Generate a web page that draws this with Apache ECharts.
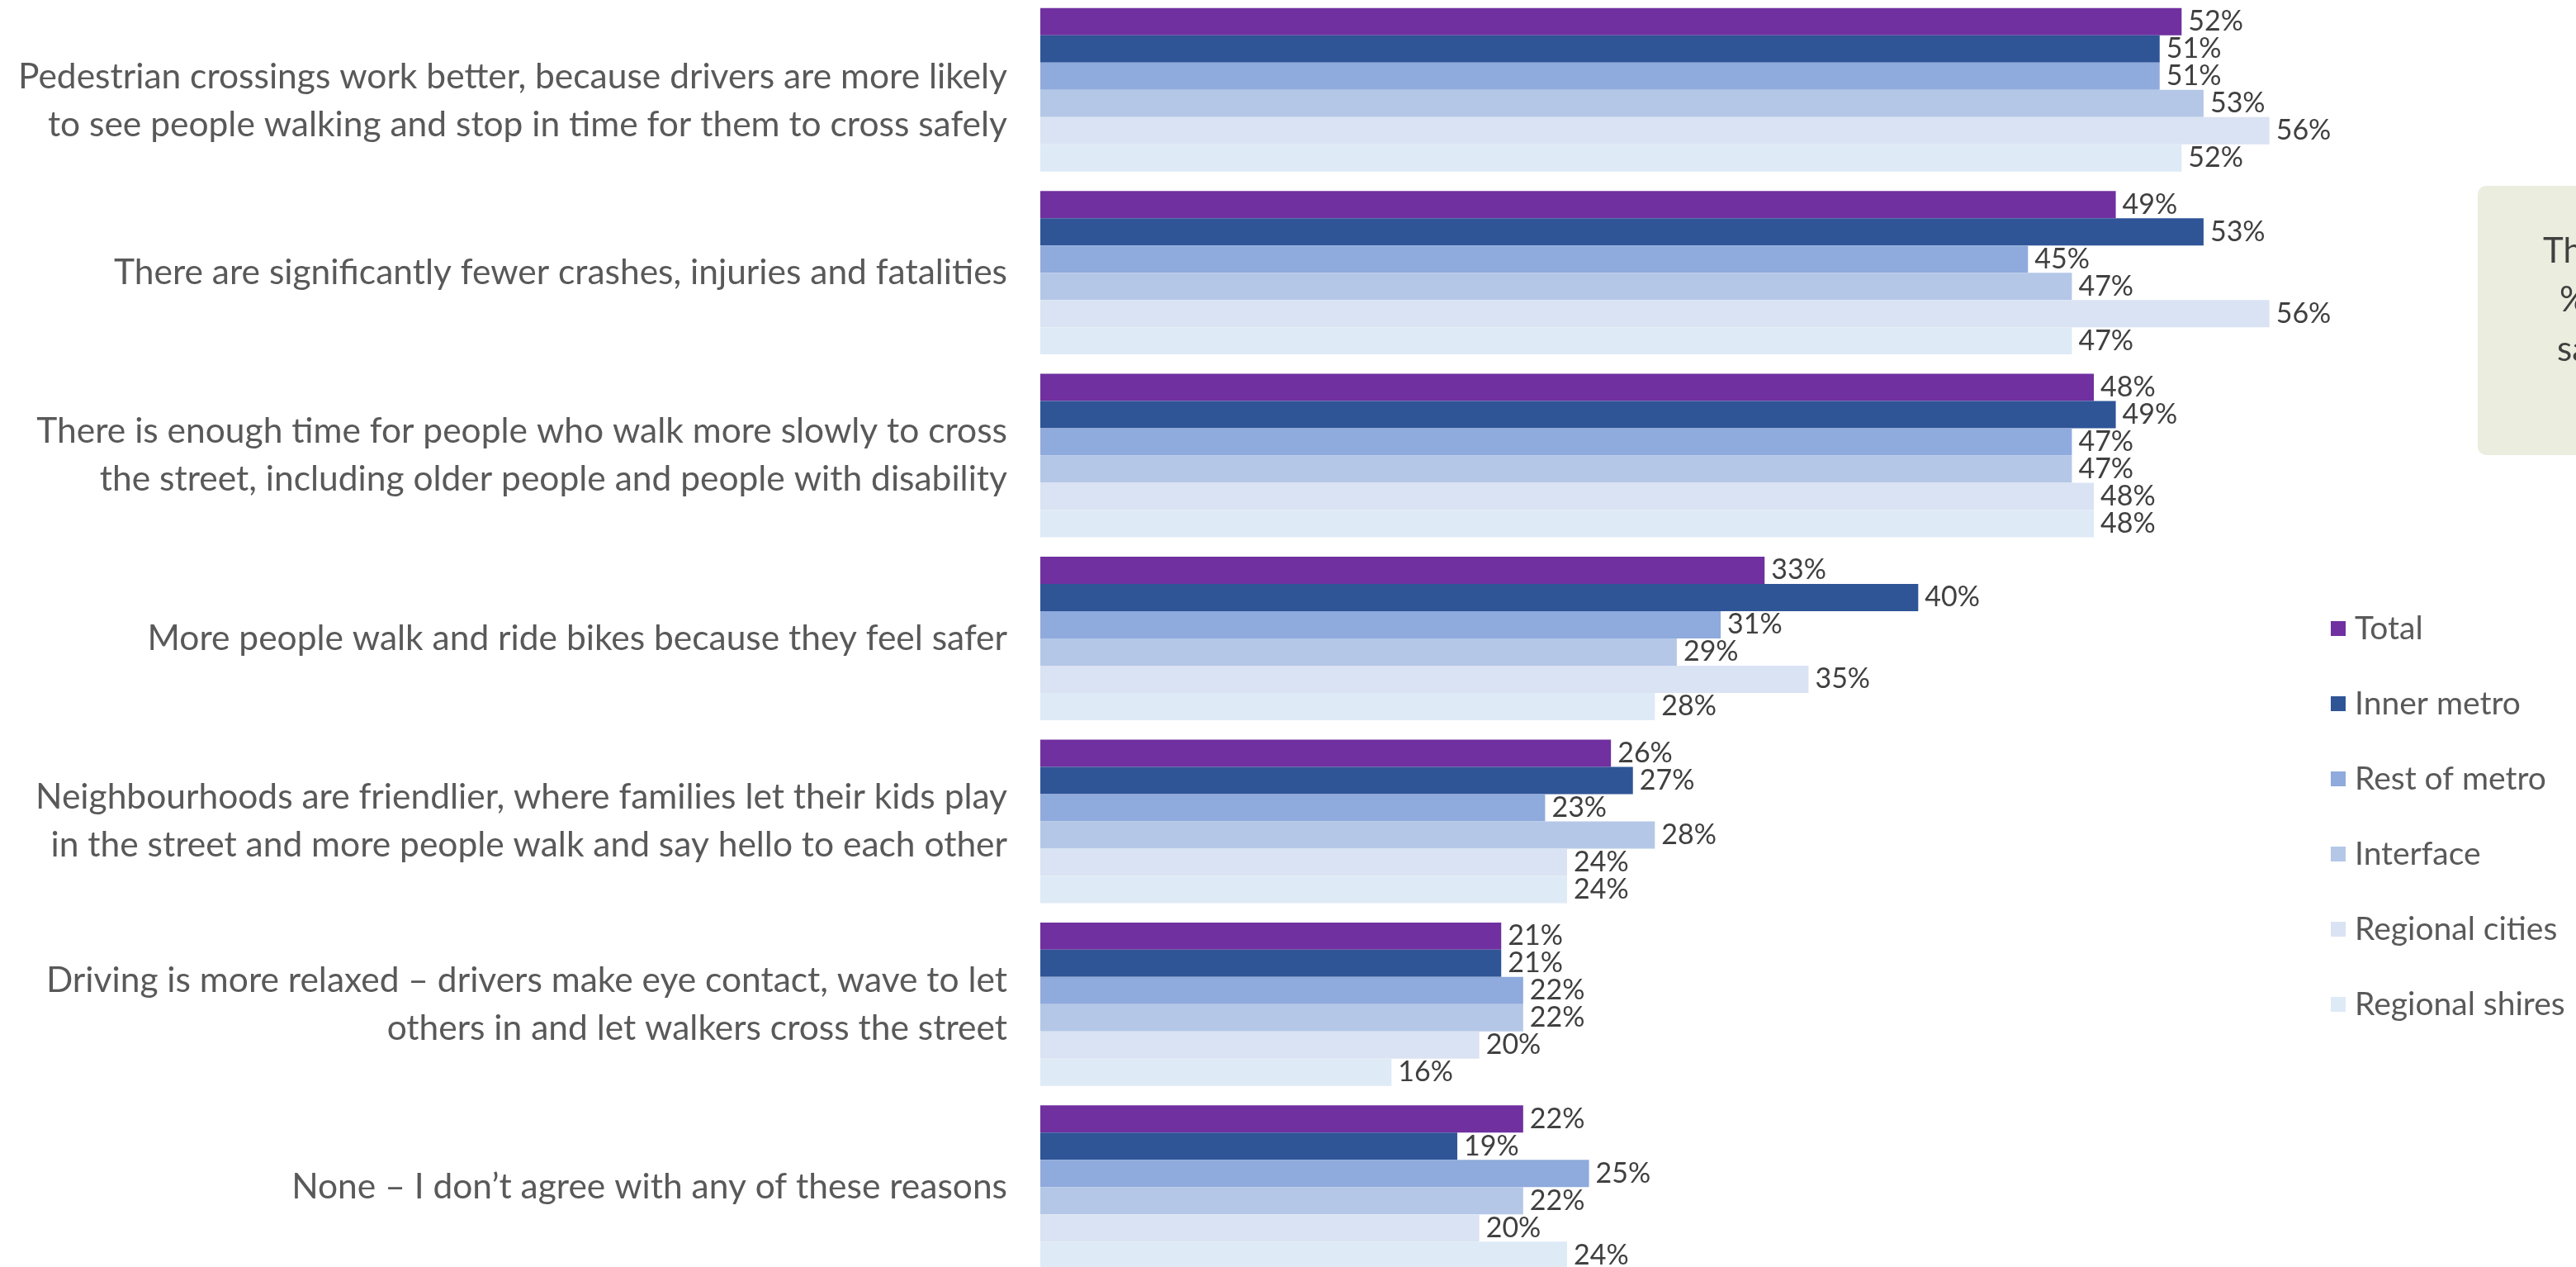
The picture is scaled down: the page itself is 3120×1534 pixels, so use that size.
<!DOCTYPE html>
<html>
<head>
<meta charset="utf-8">
<script src="https://cdn.jsdelivr.net/npm/echarts@6/dist/echarts.min.js"></script>
<style>
html,body{margin:0;padding:0;background:#fff;overflow:hidden;}
#chart{width:3120px;height:1552px;margin-top:-2px;}
</style>
</head>
<body>
<div id="chart"></div>
<script>
const categories = [
  "Pedestrian crossings work better, because drivers are more likely\nto see people walking and stop in time for them to cross safely",
  "There are significantly fewer crashes, injuries and fatalities",
  "There is enough time for people who walk more slowly to cross\nthe street, including older people and people with disability",
  "More people walk and ride bikes because they feel safer",
  "Neighbourhoods are friendlier, where families let their kids play\nin the street and more people walk and say hello to each other",
  "Driving is more relaxed \u2013 drivers make eye contact, wave to let\nothers in and let walkers cross the street",
  "None \u2013 I don\u2019t agree with any of these reasons"
];
const seriesNames = ["Total", "Inner metro", "Rest of metro", "Interface", "Regional cities", "Regional shires"];
const total          = [52, 49, 48, 33, 26, 21, 22];
const innerMetro     = [51, 53, 49, 40, 27, 21, 19];
const restOfMetro    = [51, 45, 47, 31, 23, 22, 25];
const interfaceArea  = [53, 47, 47, 29, 28, 22, 22];
const regionalCities = [56, 56, 48, 35, 24, 20, 20];
const regionalShires = [52, 47, 48, 28, 24, 16, 24];
const boxTextLines = ["Th", "%", "sa"];

const values = [total, innerMetro, restOfMetro, interfaceArea, regionalCities, regionalShires];
const colors = ["#7030A0", "#2F5597", "#8FAADC", "#B4C7E7", "#DAE3F3", "#DEEAF6"];

const chart = echarts.init(document.getElementById('chart'), null, {renderer: 'canvas'});

const option = {
  backgroundColor: '#ffffff',
  animation: false,
  grid: {left: 1260, top: 0, width: 1595, height: 1550, containLabel: false},
  xAxis: {
    type: 'value', min: 0, max: 60,
    axisLine: {show: false}, axisTick: {show: false}, axisLabel: {show: false}, splitLine: {show: false}
  },
  yAxis: {
    type: 'category', inverse: true, data: categories,
    axisLine: {show: false}, axisTick: {show: false}, splitLine: {show: false},
    axisLabel: {
      margin: 40, color: '#595959', fontFamily: 'Lato', fontSize: 42.5, lineHeight: 58, align: 'right',
      formatter: function (value, index) {
        const lines = value.split('\n').map(l => '{t|' + l + '}').join('\n');
        return index === 0 ? '{s|}\n' + lines : lines;
      },
      rich: {
        s: {fontSize: 1, lineHeight: 28},
        t: {fontSize: 42.5, lineHeight: 58, color: '#595959', fontFamily: 'Lato', align: 'right'}
      }
    }
  },
  legend: {
    orient: 'vertical', left: 2818, top: 738,
    itemWidth: 18, itemHeight: 18, itemGap: 51,
    icon: 'rect',
    textStyle: {color: '#595959', fontFamily: 'Lato', fontSize: 39, lineHeight: 40, padding: [0, 0, 0, 6]},
    data: seriesNames
  },
  graphic: [
    {type: 'rect', left: 3001, top: 227, shape: {width: 300, height: 326, r: 10}, style: {fill: '#EBEEDF'}, z: 1},
    ...boxTextLines.map((t, i) => ({
      type: 'text', z: 2,
      left: [3080, 3100, 3097][i], top: [285, 344, 404][i],
      style: {text: t, fill: '#404040', font: '42px Lato'}
    }))
  ],
  series: seriesNames.map((n, si) => ({
    name: n, type: 'bar', data: values[si],
    barGap: 0, barCategoryGap: '10.6%',
    itemStyle: {color: colors[si]},
    label: {show: true, position: 'right', distance: 8, formatter: '{c}%', color: '#404040', fontFamily: 'Lato', fontSize: 34}
  }))
};
chart.setOption(option);
</script>
</body>
</html>
